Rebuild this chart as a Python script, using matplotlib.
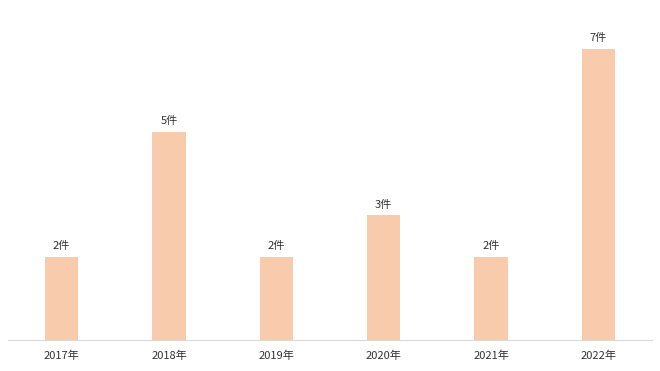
import matplotlib.pyplot as plt

plt.rcParams['font.family'] = ['Noto Sans CJK JP', 'DejaVu Sans']

years = ['2017年', '2018年', '2019年', '2020年', '2021年', '2022年']
counts = [2, 5, 2, 3, 2, 7]
labels = [f"{c}件" for c in counts]

fig = plt.figure(figsize=(6.6, 3.71), dpi=100)
ax = fig.add_axes([8 / 660, 31 / 371, 644 / 660, 333 / 371])

x = range(len(years))
bars = ax.bar(x, counts, width=0.31, color='#F8CBAD')

for b, lab in zip(bars, labels):
    ax.annotate(lab, (b.get_x() + b.get_width() / 2, b.get_height()),
                xytext=(0, 4), textcoords='offset points',
                ha='center', va='bottom', fontsize=8, color='#333333')

ax.set_xlim(-0.5, 5.5)
ax.set_ylim(0, 8)
ax.set_xticks(list(x))
ax.set_xticklabels(years, fontsize=8, color='#333333')
ax.tick_params(axis='x', length=0, pad=8)
ax.set_yticks([])
for side in ['top', 'right', 'left']:
    ax.spines[side].set_visible(False)
ax.spines['bottom'].set_color('#D9D9D9')

fig.savefig('out.png', dpi=100)
